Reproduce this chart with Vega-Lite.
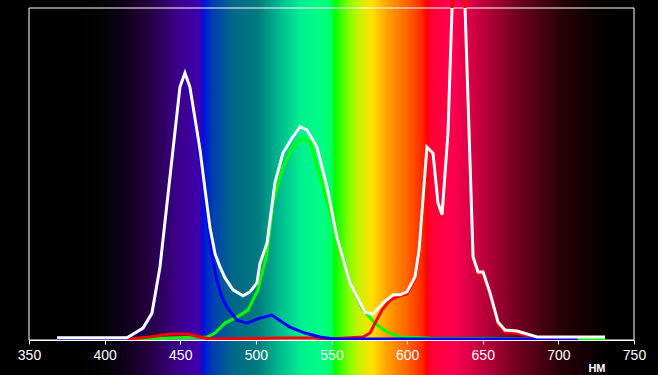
{
  "$schema": "https://vega.github.io/schema/vega-lite/v6.json",
  "width": 605,
  "height": 332,
  "autosize": {"type": "none"},
  "padding": {"left": 29, "top": 8, "right": 24, "bottom": 35},
  "background": "#000000",
  "config": {"view": {"stroke": null}, "font": "Liberation Sans"},
  "datasets": {
    "band": [{"nm": 350, "nm2": 750, "v": -11, "v2": 103}],
    "frame": [{"nm": 350, "nm2": 750, "v": 0, "v2": 100}],
    "green": [
      {"nm": 414.8, "v": 0.3}, {"nm": 467.7, "v": 0.9}, {"nm": 473.0, "v": 2.1}, {"nm": 479.6, "v": 5.1},
      {"nm": 487.5, "v": 6.9}, {"nm": 494.8, "v": 9.0}, {"nm": 501.4, "v": 15.1}, {"nm": 507.4, "v": 26.2},
      {"nm": 511.3, "v": 41.3}, {"nm": 517.9, "v": 52.1}, {"nm": 524.5, "v": 58.1}, {"nm": 530.5, "v": 60.8},
      {"nm": 535.8, "v": 59.6}, {"nm": 543.7, "v": 47.3}, {"nm": 553.6, "v": 31.0}, {"nm": 562.2, "v": 17.2},
      {"nm": 570.8, "v": 9.0}, {"nm": 580.1, "v": 4.5}, {"nm": 586.7, "v": 2.4}, {"nm": 595.3, "v": 0.9},
      {"nm": 615.1, "v": 0.5}, {"nm": 730.8, "v": 0.3}
    ],
    "red": [
      {"nm": 414.8, "v": 0.3}, {"nm": 430.0, "v": 0.9}, {"nm": 443.2, "v": 1.8}, {"nm": 454.5, "v": 1.8},
      {"nm": 463.1, "v": 0.9}, {"nm": 469.7, "v": 0.3}, {"nm": 517.9, "v": 0.6}, {"nm": 537.8, "v": 0.6},
      {"nm": 549.0, "v": 0.3}, {"nm": 570.8, "v": 0.9}, {"nm": 575.5, "v": 2.1}, {"nm": 578.8, "v": 5.1},
      {"nm": 583.4, "v": 9.0}, {"nm": 588.7, "v": 12.0}, {"nm": 593.4, "v": 13.0}, {"nm": 599.9, "v": 13.9},
      {"nm": 605.2, "v": 18.4}, {"nm": 607.9, "v": 26.5}, {"nm": 613.1, "v": 57.5}, {"nm": 617.1, "v": 55.7},
      {"nm": 620.4, "v": 40.7}, {"nm": 623.1, "v": 37.1}, {"nm": 627.0, "v": 61.7}, {"nm": 629.7, "v": 99.4},
      {"nm": 633.5, "v": 144}, {"nm": 638.3, "v": 99.4}, {"nm": 643.6, "v": 24.4}, {"nm": 646.9, "v": 19.9},
      {"nm": 650.2, "v": 19.9}, {"nm": 654.8, "v": 13.6}, {"nm": 660.1, "v": 4.8}, {"nm": 664.7, "v": 2.4},
      {"nm": 672.6, "v": 2.1}, {"nm": 685.9, "v": 0.5}, {"nm": 707.7, "v": 0.3}
    ],
    "blue": [
      {"nm": 368.5, "v": 0.5}, {"nm": 414.8, "v": 0.5}, {"nm": 425.4, "v": 3.2}, {"nm": 431.3, "v": 7.6},
      {"nm": 436.6, "v": 21.4}, {"nm": 443.2, "v": 48.5}, {"nm": 449.8, "v": 75.6}, {"nm": 453.1, "v": 79.8},
      {"nm": 456.4, "v": 75.6}, {"nm": 461.7, "v": 58.7}, {"nm": 466.0, "v": 44.5}, {"nm": 470.9, "v": 26.0},
      {"nm": 474.2, "v": 18.1}, {"nm": 477.5, "v": 13.0}, {"nm": 480.9, "v": 9.9}, {"nm": 487.5, "v": 6.0},
      {"nm": 494.1, "v": 5.1}, {"nm": 502.7, "v": 6.6}, {"nm": 510.6, "v": 7.5}, {"nm": 517.3, "v": 5.4},
      {"nm": 522.5, "v": 3.9}, {"nm": 532.5, "v": 2.1}, {"nm": 542.4, "v": 0.9}, {"nm": 551.6, "v": 0.3},
      {"nm": 713.0, "v": 0.3}
    ],
    "white": [
      {"nm": 368.5, "v": 0.7}, {"nm": 414.8, "v": 0.7}, {"nm": 425.4, "v": 3.6}, {"nm": 431.3, "v": 8.1},
      {"nm": 436.6, "v": 22.0}, {"nm": 443.2, "v": 49.1}, {"nm": 449.8, "v": 76.2}, {"nm": 453.1, "v": 80.4},
      {"nm": 456.4, "v": 76.2}, {"nm": 463.1, "v": 57.2}, {"nm": 466.4, "v": 45.2}, {"nm": 469.7, "v": 33.7},
      {"nm": 473.0, "v": 26.0}, {"nm": 476.3, "v": 22.0}, {"nm": 479.6, "v": 18.7}, {"nm": 484.9, "v": 15.1},
      {"nm": 491.5, "v": 13.3}, {"nm": 496.1, "v": 14.5}, {"nm": 500.7, "v": 17.2}, {"nm": 502.7, "v": 23.0},
      {"nm": 507.4, "v": 29.2}, {"nm": 512.6, "v": 47.3}, {"nm": 517.9, "v": 56.3}, {"nm": 523.9, "v": 60.8},
      {"nm": 529.2, "v": 64.2}, {"nm": 533.8, "v": 63.3}, {"nm": 540.4, "v": 58.1}, {"nm": 547.0, "v": 46.1},
      {"nm": 553.6, "v": 31.0}, {"nm": 562.2, "v": 17.2}, {"nm": 572.1, "v": 8.4}, {"nm": 577.4, "v": 7.8},
      {"nm": 584.0, "v": 11.1}, {"nm": 590.7, "v": 13.6}, {"nm": 595.3, "v": 13.6}, {"nm": 599.9, "v": 14.5},
      {"nm": 605.2, "v": 19.0}, {"nm": 607.9, "v": 27.1}, {"nm": 613.1, "v": 58.1}, {"nm": 617.1, "v": 56.3},
      {"nm": 620.4, "v": 41.3}, {"nm": 623.1, "v": 37.7}, {"nm": 627.0, "v": 62.3}, {"nm": 629.7, "v": 100},
      {"nm": 633.5, "v": 145}, {"nm": 638.3, "v": 100}, {"nm": 643.6, "v": 25.0}, {"nm": 646.9, "v": 20.5},
      {"nm": 650.2, "v": 20.5}, {"nm": 654.8, "v": 14.2}, {"nm": 660.1, "v": 5.4}, {"nm": 664.7, "v": 3.0},
      {"nm": 672.6, "v": 2.7}, {"nm": 685.9, "v": 0.9}, {"nm": 707.7, "v": 0.9}, {"nm": 730.8, "v": 0.9}
    ]
  },
  "encoding": {
    "x": {
      "field": "nm", "type": "quantitative",
      "scale": {"domain": [350, 750], "nice": false, "zero": false},
      "axis": {
        "zindex": 2,
        "values": [350, 400, 450, 500, 550, 600, 650, 700, 750],
        "labelColor": "#ffffff", "labelFontSize": 14, "labelPadding": 4, "labelFlush": false, "labelOverlap": false,
        "tickColor": "#ffffff", "tickSize": 4, "tickWidth": 1,
        "domainColor": "#ffffff", "grid": false,
        "title": "НМ", "titleColor": "#ffffff", "titleFontSize": 11, "titleFontWeight": "bold",
        "titleX": 576, "titleY": 31, "titleAlign": "right", "titleBaseline": "alphabetic", "titleAngle": 0
      }
    },
    "y": {
      "field": "v", "type": "quantitative",
      "scale": {"domain": [0, 100], "nice": false, "zero": false},
      "axis": null
    }
  },
  "layer": [
    {
      "data": {"name": "band"},
      "mark": {
        "type": "rect", "clip": false,
        "fill": {
          "gradient": "linear", "x1": 0, "y1": 0, "x2": 1, "y2": 0,
          "stops": [
            {"offset": 0, "color": "#000000"},
            {"offset": 0.0875, "color": "#000000"},
            {"offset": 0.125, "color": "#030308"},
            {"offset": 0.1625, "color": "#12001e"},
            {"offset": 0.2, "color": "#250040"},
            {"offset": 0.2425, "color": "#3a0085"},
            {"offset": 0.2825, "color": "#4000b0"},
            {"offset": 0.2875, "color": "#0010e0"},
            {"offset": 0.305, "color": "#0040b0"},
            {"offset": 0.3375, "color": "#006888"},
            {"offset": 0.3775, "color": "#007a80"},
            {"offset": 0.4175, "color": "#00c090"},
            {"offset": 0.45, "color": "#00f090"},
            {"offset": 0.4875, "color": "#00ff80"},
            {"offset": 0.5, "color": "#00ff60"},
            {"offset": 0.505, "color": "#00ff00"},
            {"offset": 0.5275, "color": "#80ff00"},
            {"offset": 0.5475, "color": "#d0f000"},
            {"offset": 0.5675, "color": "#ffe000"},
            {"offset": 0.5925, "color": "#ffa000"},
            {"offset": 0.625, "color": "#ff6400"},
            {"offset": 0.65, "color": "#ff2800"},
            {"offset": 0.6575, "color": "#ff0000"},
            {"offset": 0.6625, "color": "#ff0030"},
            {"offset": 0.7, "color": "#ff0050"},
            {"offset": 0.725, "color": "#e00048"},
            {"offset": 0.76, "color": "#b00038"},
            {"offset": 0.8125, "color": "#6a001c"},
            {"offset": 0.875, "color": "#2a0008"},
            {"offset": 0.9375, "color": "#080000"},
            {"offset": 0.975, "color": "#000000"},
            {"offset": 1, "color": "#000000"}
          ]
        }
      },
      "encoding": {"x2": {"field": "nm2"}, "y2": {"field": "v2"}}
    },
    {
      "data": {"name": "frame"},
      "mark": {"type": "rect", "fill": null, "fillOpacity": 0, "stroke": "#ffffff", "strokeWidth": 1},
      "encoding": {"x2": {"field": "nm2"}, "y2": {"field": "v2"}}
    },
    {
      "data": {"name": "green"},
      "mark": {"type": "line", "color": "#00ff00", "strokeWidth": 3}
    },
    {
      "data": {"name": "red"},
      "mark": {"type": "line", "color": "#ff0000", "strokeWidth": 3}
    },
    {
      "data": {"name": "blue"},
      "mark": {"type": "line", "color": "#0000ff", "strokeWidth": 3}
    },
    {
      "data": {"name": "white"},
      "mark": {"type": "line", "color": "#ffffff", "strokeWidth": 3, "clip": true}
    }
  ]
}
